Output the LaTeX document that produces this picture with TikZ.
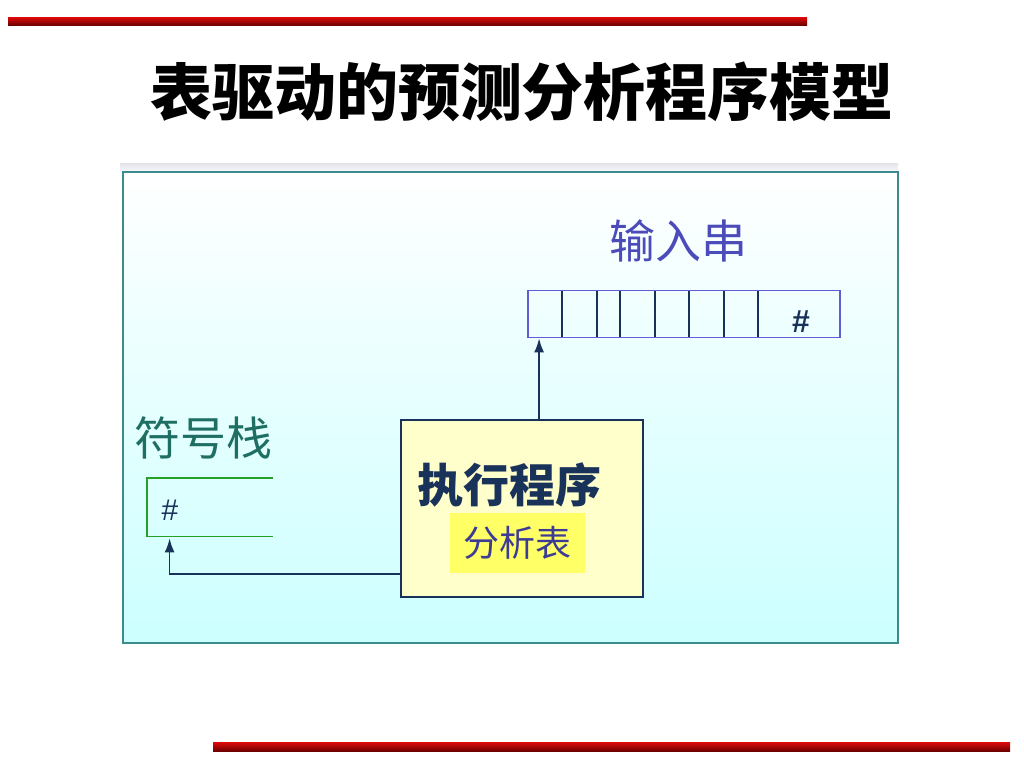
\documentclass[tikz,border=0pt]{standalone}
\usepackage{fontspec}
\setmainfont{Liberation Sans}
\newfontfamily\cjk{Noto Sans CJK SC}
\usetikzlibrary{shapes,arrows,arrows.meta,positioning}
\definecolor{barred}{RGB}{225,10,10}
\definecolor{bardark}{RGB}{110,0,0}
\definecolor{panelcyan}{RGB}{204,255,255}
\definecolor{panelline}{RGB}{60,140,140}
\definecolor{navy}{RGB}{25,50,90}
\definecolor{tapeblue}{RGB}{100,90,210}
\definecolor{labelblue}{RGB}{75,75,185}
\definecolor{tealtext}{RGB}{30,110,100}
\definecolor{stackgreen}{RGB}{40,160,40}
\definecolor{progfill}{RGB}{255,255,204}
\definecolor{tablefill}{RGB}{255,255,102}
\tikzstyle{bar} = [top color=barred, bottom color=bardark, draw=none]
\tikzstyle{block} = [rectangle, draw=navy, line width=0.9pt, inner sep=0pt]
\tikzstyle{label} = [font=\cjk, inner sep=0pt]
\tikzstyle{line} = [draw, navy, line width=0.8pt, -{Latex[length=7pt,width=5pt]}]

\begin{document}
\begin{tikzpicture}[x=0.5pt, y=-0.5pt]
      \useasboundingbox (0,0) rectangle (1024,768);
      % red bars
      \shade [bar] (8,17) rectangle (807,25);
      \shade [bar] (213,742) rectangle (1010,751);
      \node [font=\cjk\bfseries\fontsize{31}{31}\selectfont, inner sep=0pt] (title) at (522,92) {表驱动的预测分析程序模型};

      % panel
      \shade [top color=blue!8!gray!20, bottom color=blue!3!white] (120,163) rectangle (898,172);
      \node [rectangle, draw=panelline, line width=0.9pt, top color=white, bottom color=panelcyan,
             minimum width=387.5pt, minimum height=235.5pt] (panel) at (510.5,407.5) {};

      \node [label, text=labelblue, font=\cjk\fontsize{23}{23}\selectfont] (inlabel) at (678,241) {输入串};
      \node [rectangle, draw=tapeblue, line width=0.9pt, minimum width=156pt, minimum height=23.5pt] (tape) at (684,314) {};
      \foreach \x in {562,597,620,655,689,724,758}
        \draw [navy, line width=0.8pt] (\x,291) -- (\x,337);
      \node [text=navy, font=\bfseries\fontsize{16}{16}\selectfont] (tapeend) at (801,322) {\#};
      \coordinate (tapein) at ([xshift=6pt]tape.south west);

      \node [label, text=tealtext, font=\cjk\fontsize{23}{23}\selectfont] (stacklabel) at (203,438) {符号栈};
      \node [minimum width=63pt, minimum height=29pt] (stack) at (210,507) {};
      \draw [stackgreen, line width=0.9pt] (stack.north east) -- (stack.north west) -- (stack.south west) -- (stack.south east);
      \node [text=navy, font=\fontsize{15}{15}\selectfont] (stackend) at (170,510) {\#};
      \coordinate (stackin) at ([xshift=11.5pt, yshift=-1pt]stack.south west);

      \node [block, fill=progfill, minimum width=121pt, minimum height=88.5pt] (prog) at (522,508.5) {};
      \node [label, text=navy, font=\cjk\bfseries\fontsize{23}{23}\selectfont] (progname) at (509,485) {执行程序};
      \node [rectangle, fill=tablefill, minimum width=67.5pt, minimum height=30pt] (table) at (517.5,543) {};
      \node [label, text=labelblue!80!black, font=\cjk\fontsize{18}{18}\selectfont] (tablename) at (table) {分析表};

      \path [line] (prog.north -| tapein) -- (tapein);
      \path [line] ([yshift=12pt]prog.south west) -| (stackin);
    \end{tikzpicture}
\end{document}
